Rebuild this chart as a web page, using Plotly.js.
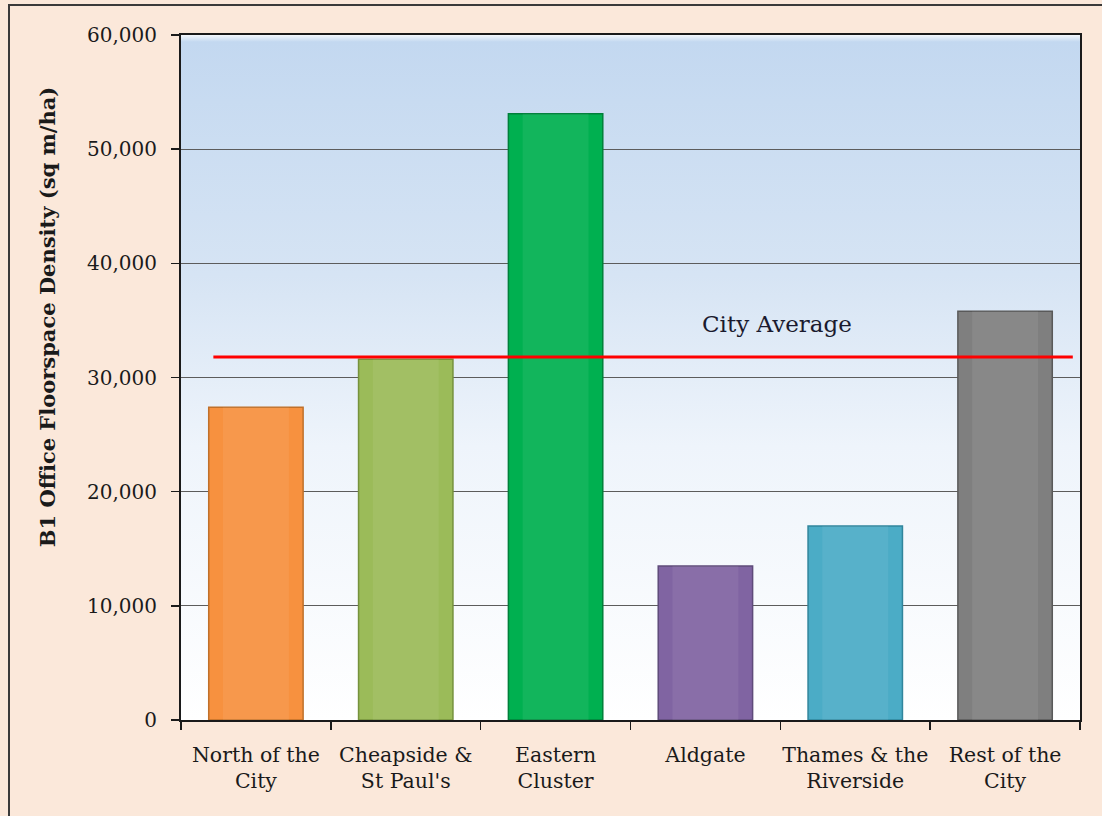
<!DOCTYPE html>
<html>
<head>
<meta charset="utf-8">
<script src="https://cdn.plot.ly/plotly-3.0.1.min.js"></script>
<style>
  html, body { margin: 0; padding: 0; background: #FBE8DA; }
  #wrap { position: relative; width: 1102px; height: 816px; overflow: hidden; }
  #chart { position: absolute; left: 0; top: 0; width: 1102px; height: 816px; }
  #frame { position: absolute; left: 8px; top: 4px; width: 1120px; height: 830px;
           border: 2px solid #3a3a3a; pointer-events: none; }
</style>
</head>
<body>
<div id="wrap">
  <div id="chart"></div>
  <div id="frame"></div>
</div>
<script>
// Office floorspace density by area of the City
const areas = ["North of the<br>City", "Cheapside &<br>St Paul's", "Eastern<br>Cluster",
               "Aldgate", "Thames & the<br>Riverside", "Rest of the<br>City"];
const density = [27400, 31600, 53100, 13500, 17000, 35800];
const barColors = ["#F7913F", "#9BBB59", "#00B050", "#8064A2", "#4BACC6", "#7F7F7F"];
const edgeColors = ["#C0702A", "#76923C", "#00803A", "#5F4B7A", "#31859C", "#595959"];
const cityAverage = 31800;
const yTicks = [0, 10000, 20000, 30000, 40000, 50000, 60000];
const yTickText = ["0", "10,000", "20,000", "30,000", "40,000", "50,000", "60,000"];

const serif = "DejaVu Serif, Liberation Serif, serif";

// vertical sky-blue to white wash behind the bars
const bgSvg = '<svg xmlns="http://www.w3.org/2000/svg" width="100" height="100" preserveAspectRatio="none">' +
  '<defs><linearGradient id="g" x1="0" y1="0" x2="0" y2="1">' +
  '<stop offset="0" stop-color="#F4F8FD"/>' +
  '<stop offset="0.01" stop-color="#C3D8F0"/>' +
  '<stop offset="0.35" stop-color="#D6E4F4"/>' +
  '<stop offset="0.6" stop-color="#EEF4FB"/>' +
  '<stop offset="1" stop-color="#FFFFFF"/>' +
  '</linearGradient></defs><rect width="100" height="100" fill="url(#g)"/></svg>';

const traces = [
  {
    type: "bar",
    x: areas,
    y: density,
    width: 0.63,
    marker: { color: barColors, line: { color: edgeColors, width: 1.5 } },
    hoverinfo: "x+y"
  },
  {
    // soft highlight down the middle of each bar
    type: "bar",
    x: areas,
    y: density,
    width: 0.44,
    marker: { color: "rgba(255,255,255,0.07)", line: { width: 0 } },
    hoverinfo: "skip"
  }
];

const layout = {
  width: 1102,
  height: 816,
  margin: { l: 181, r: 22, t: 35, b: 96 },
  paper_bgcolor: "#FBE8DA",
  plot_bgcolor: "rgba(0,0,0,0)",
  barmode: "overlay",
  showlegend: false,
  font: { family: serif, size: 19, color: "#1a1a1a" },
  xaxis: {
    type: "category",
    range: [-0.5, 5.5],
    showline: true, mirror: true, linecolor: "#1a1a1a", linewidth: 2,
    ticks: "outside", ticklen: 8, tickwidth: 1.5, tickcolor: "#1a1a1a",
    tickson: "boundaries",
    tickangle: 0,
    ticklabelstandoff: 15,
    showgrid: false,
    tickfont: { family: serif, size: 20.5, color: "#1a1a1a" },
    fixedrange: true
  },
  yaxis: {
    range: [0, 60000],
    tickvals: yTicks,
    ticktext: yTickText,
    showline: true, mirror: true, linecolor: "#1a1a1a", linewidth: 2,
    ticks: "outside", ticklen: 8, tickwidth: 1.5, tickcolor: "#1a1a1a",
    ticklabelstandoff: 10,
    showgrid: true, gridcolor: "#5c5c5c", gridwidth: 1,
    zeroline: false,
    tickfont: { family: serif, size: 20, color: "#1a1a1a" },
    fixedrange: true
  },
  images: [{
    source: "data:image/svg+xml;charset=utf-8," + encodeURIComponent(bgSvg),
    xref: "paper", yref: "paper", x: 0, y: 1, sizex: 1, sizey: 1,
    xanchor: "left", yanchor: "top", sizing: "stretch", layer: "below"
  }],
  shapes: [{
    type: "line", xref: "paper", yref: "y",
    x0: 0.036, x1: 0.992, y0: cityAverage, y1: cityAverage,
    line: { color: "#FF0000", width: 3 }
  }],
  annotations: [
    {
      text: "City Average", xref: "paper", yref: "paper",
      x: 0.663, y: 0.578, xanchor: "center", yanchor: "middle",
      showarrow: false, font: { family: serif, size: 23, color: "#1a1a2e" }
    },
    {
      text: "<b>B1 Office Floorspace Density (sq m/ha)</b>", xref: "paper", yref: "paper",
      x: -0.149, y: 0.588, xanchor: "center", yanchor: "middle", textangle: -90,
      showarrow: false, font: { family: serif, size: 21, color: "#1a1a1a" }
    }
  ]
};

Plotly.newPlot("chart", traces, layout, { displayModeBar: false, staticPlot: true });
</script>
</body>
</html>
